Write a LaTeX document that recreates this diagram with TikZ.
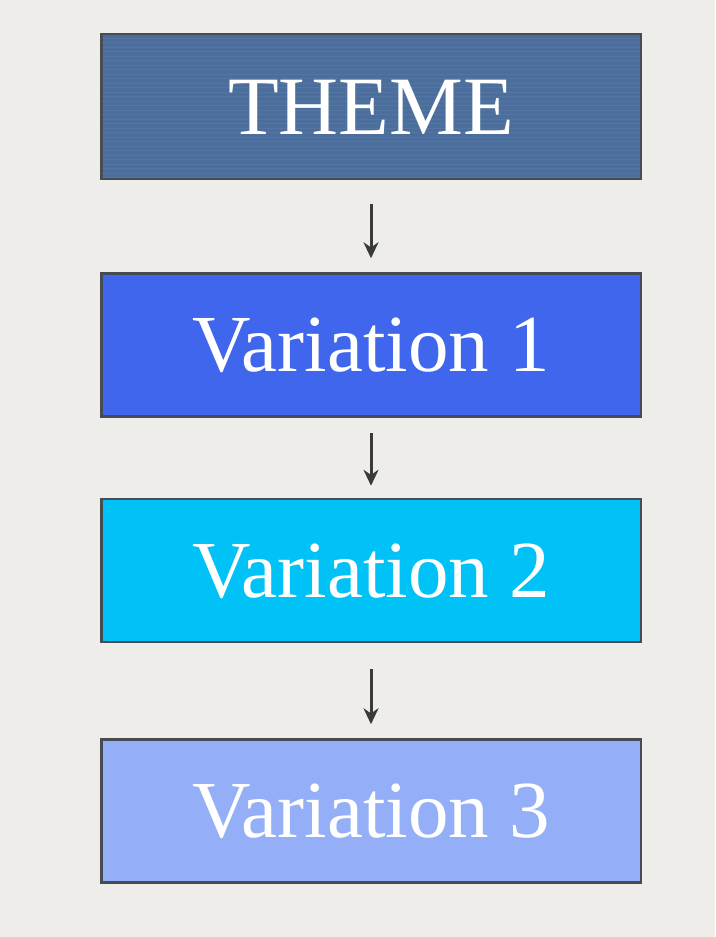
\documentclass[tikz,border=0pt]{standalone}
\usepackage{fontspec}
\setmainfont{Liberation Serif}
\usetikzlibrary{arrows.meta}
\definecolor{bgc}{HTML}{EFEDEA}
\definecolor{edgec}{HTML}{474B52}
\definecolor{themec}{HTML}{4B6E9C}
\definecolor{vonec}{HTML}{3F66EC}
\definecolor{vtwoc}{HTML}{00C2F6}
\definecolor{vthreec}{HTML}{94AFF7}
\definecolor{arrc}{HTML}{3A3A3A}
\tikzset{
  stagebox/.style={draw=edgec, line width=2.5pt, minimum width=539.5pt, minimum height=143pt,
    inner sep=0pt, text=white, font=\fontsize{81}{90}\selectfont, text height=53.6pt, text depth=0pt},
  flowarrow/.style={draw=arrc, line width=3pt, -{Stealth[length=16pt,width=15pt]}}
}
\begin{document}
\begin{tikzpicture}[x=1pt,y=-1pt]
\fill[bgc] (0,0) rectangle (715,937);
\useasboundingbox (0,0) rectangle (715,937);
\node[stagebox, fill=themec, minimum height=145pt, font=\fontsize{83}{90}\selectfont, text height=55pt] (theme) at (371,106.5) {THEME};
\begin{scope}
\clip (101.5,34.5) rectangle (640.5,178.5);
\foreach \yy in {38,42.5,...,178} {
  \draw[white, opacity=0.05, line width=1pt] (100,\yy) -- (642,\yy);
}
\end{scope}
\node[stagebox, fill=vonec] (v1) at (371,345) {Variation 1};
\node[stagebox, fill=vtwoc] (v2) at (371,570.5) {Variation 2};
\node[stagebox, fill=vthreec] (v3) at (371,811) {Variation 3};
\draw[flowarrow, shorten <=24pt, shorten >=14pt] (theme.south) -- (v1.north);
\draw[flowarrow, shorten <=15pt, shorten >=12pt] (v1.south) -- (v2.north);
\draw[flowarrow, shorten <=26pt, shorten >=14pt] (v2.south) -- (v3.north);
\end{tikzpicture}
\end{document}
